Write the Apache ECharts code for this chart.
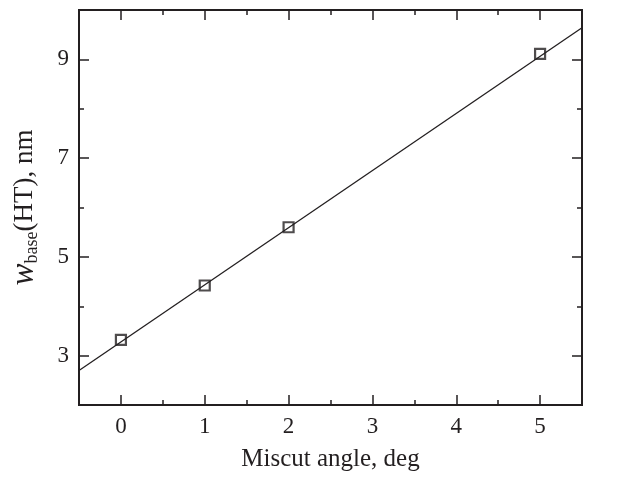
<!DOCTYPE html>
<html>
<head>
<meta charset="utf-8">
<script src="https://cdn.jsdelivr.net/npm/echarts@6/dist/echarts.min.js"></script>
<style>
  html, body { margin: 0; padding: 0; background: #fff; }
  #chart { width: 621px; height: 477px; }
</style>
</head>
<body>
<div id="chart"></div>
<script>
// measured points
var miscut = [0, 1, 2, 5];
var wBase = [3.32, 4.42, 5.6, 9.11];
// fitted line, end points
var fitX = [-0.5, 5.5];
var fitY = [2.7, 9.64];
// ticks
var xTicks = [0, 1, 2, 3, 4, 5];
var xMinor = [0.5, 1.5, 2.5, 3.5, 4.5];
var yTicks = [3, 5, 7, 9];
var yMinor = [4, 6, 8];

var ink = '#231f20';
var font = 'Liberation Serif';

function xAxisDef(pos, ticks, len, showLabel, withName) {
  return {
    type: 'value', position: pos, min: -0.5, max: 5.5,
    name: withName ? 'Miscut angle, deg' : '',
    nameLocation: 'middle', nameGap: 42,
    nameTextStyle: { fontFamily: font, fontSize: 25, color: ink },
    axisLine: { show: true, onZero: false, lineStyle: { color: ink, width: 2 } },
    axisTick: { show: true, inside: true, length: len, customValues: ticks, lineStyle: { color: ink, width: 1.5 } },
    axisLabel: { show: showLabel, customValues: ticks, margin: 10, fontFamily: font, fontSize: 23, color: ink },
    splitLine: { show: false }
  };
}

function yAxisDef(pos, ticks, len, showLabel, withName) {
  return {
    type: 'value', position: pos, min: 2, max: 10,
    name: withName ? '{w|w}{sub|base}(HT), nm' : '',
    nameLocation: 'middle', nameGap: 38,
    nameTextStyle: {
      fontFamily: font, fontSize: 27, color: ink,
      rich: {
        w: { fontFamily: font, fontSize: 33, fontStyle: 'italic', color: ink },
        sub: { fontFamily: font, fontSize: 18, color: ink, verticalAlign: 'bottom', lineHeight: 4 }
      }
    },
    axisLine: { show: true, onZero: false, lineStyle: { color: ink, width: 2 } },
    axisTick: { show: true, inside: true, length: len, customValues: ticks, lineStyle: { color: ink, width: 1.5 } },
    axisLabel: { show: showLabel, customValues: ticks, margin: 10, fontFamily: font, fontSize: 23, color: ink },
    splitLine: { show: false }
  };
}

var chart = echarts.init(document.getElementById('chart'), null, { renderer: 'canvas' });
chart.setOption({
  animation: false,
  backgroundColor: '#fff',
  grid: { left: 78, right: 39, top: 10, bottom: 64 },
  xAxis: [
    xAxisDef('bottom', xTicks, 10, true, true),
    xAxisDef('bottom', xMinor, 5, false, false),
    xAxisDef('top', xTicks, 10, false, false),
    xAxisDef('top', xMinor, 5, false, false)
  ],
  yAxis: [
    yAxisDef('left', yTicks, 10, true, true),
    yAxisDef('left', yMinor, 5, false, false),
    yAxisDef('right', yTicks, 10, false, false),
    yAxisDef('right', yMinor, 5, false, false)
  ],
  series: [
    {
      type: 'line',
      data: fitX.map(function (x, i) { return [x, fitY[i]]; }),
      showSymbol: false,
      lineStyle: { color: ink, width: 1.3 },
      z: 2
    },
    {
      type: 'scatter',
      data: miscut.map(function (x, i) { return [x, wBase[i]]; }),
      symbol: 'rect',
      symbolSize: 10,
      itemStyle: { color: 'rgba(255,255,255,0)', borderColor: ink, borderWidth: 2.2 },
      z: 3
    }
  ]
});
</script>
</body>
</html>
